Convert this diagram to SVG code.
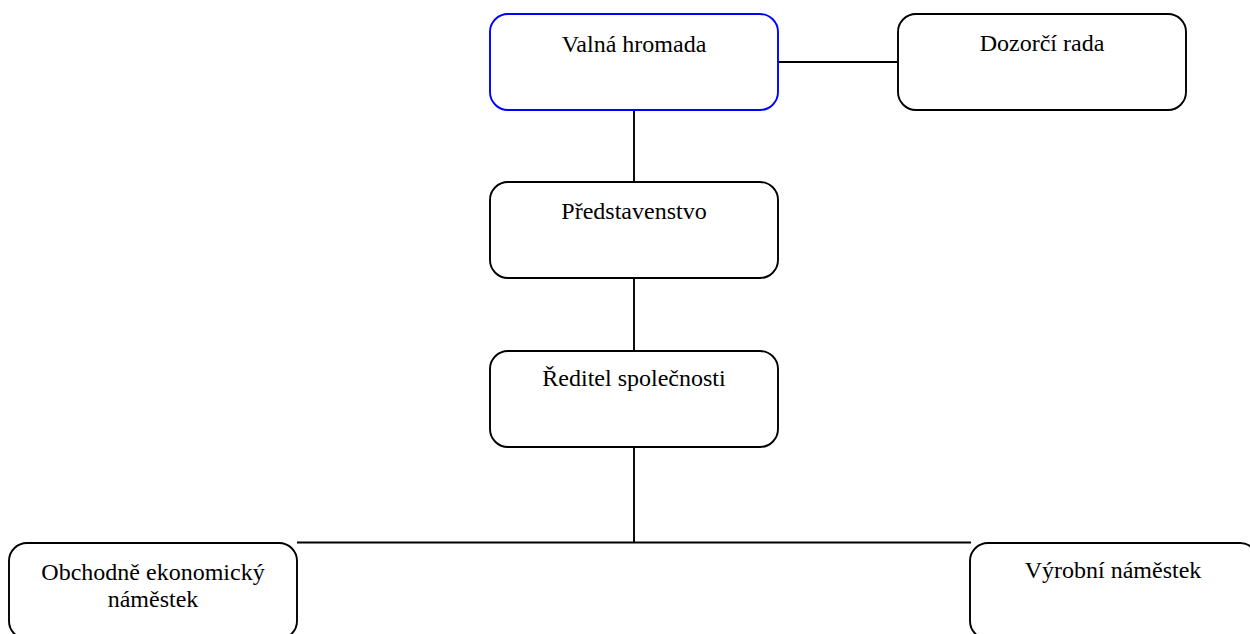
<svg xmlns="http://www.w3.org/2000/svg" width="1250" height="634" viewBox="0 0 1250 634">
<style>
.box{fill:#fff;stroke:#000;stroke-width:1.9}
.blue{stroke:#0000ff}
.lbl{font-family:"Liberation Serif","Times New Roman",serif;font-size:24px;fill:#000;text-anchor:middle}
.con line{stroke:#000;stroke-width:1.9}
</style>
<rect width="1250" height="634" fill="#fff"/>
<g id="connectors" class="con">
<line x1="778" y1="62" x2="898" y2="62"/>
<line x1="634" y1="110" x2="634" y2="182"/>
<line x1="634" y1="278" x2="634" y2="351"/>
<line x1="634" y1="447" x2="634" y2="542.5"/>
<line x1="297" y1="542.5" x2="971" y2="542.5"/>
</g>
<g id="valna-hromada">
<rect class="box blue" x="490" y="14" width="288" height="96" rx="18"/>
<text class="lbl" x="634" y="52">Valná hromada</text>
</g>
<g id="dozorci-rada">
<rect class="box" x="898" y="14" width="288" height="96" rx="18"/>
<text class="lbl" x="1042" y="51">Dozorčí rada</text>
</g>
<g id="predstavenstvo">
<rect class="box" x="490" y="182" width="288" height="96" rx="18"/>
<text class="lbl" x="634" y="219">Představenstvo</text>
</g>
<g id="reditel">
<rect class="box" x="490" y="351" width="288" height="96" rx="18"/>
<text class="lbl" x="634" y="386">Ředitel společnosti</text>
</g>
<g id="obchodne-ekonomicky">
<rect class="box" x="9" y="543" width="288" height="96" rx="18"/>
<text class="lbl" x="153" y="580">Obchodně ekonomický</text>
<text class="lbl" x="153" y="607">náměstek</text>
</g>
<g id="vyrobni">
<rect class="box" x="970" y="543" width="288" height="96" rx="18"/>
<text class="lbl" x="1113" y="578">Výrobní náměstek</text>
</g>
</svg>
